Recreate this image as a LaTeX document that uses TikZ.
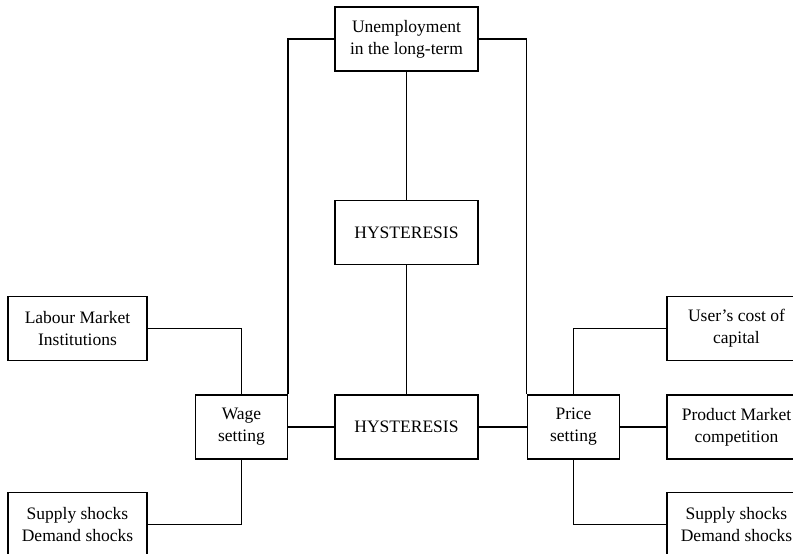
\documentclass[tikz,border=0pt]{standalone}
\usepackage{fontspec}
\setmainfont{Liberation Serif}
\usepackage{tikz}
\usetikzlibrary{positioning}
\tikzset{
  block/.style={
    rectangle, draw, line width=1.5pt, fill=white,
    minimum height=64pt, inner sep=2pt,
    align=center, font=\fontsize{17.5}{22}\selectfont
  },
  wide/.style={block, minimum width=143pt},
  narrow/.style={block, minimum width=92pt},
  side/.style={block, minimum width=139pt},
  link/.style={line width=1.5pt, black},
}

\begin{document}
\begin{tikzpicture}
  \clip (-406.5pt,-127pt) rectangle (386.5pt,427pt);

  % Central column
  \node[wide] (hyst) {HYSTERESIS};
  \node[wide, above=129pt of hyst] (hystup) {HYSTERESIS};
  \node[wide, above=128pt of hystup] (unemp) {Unemployment\\in the long-term};

  % Wage and price setting
  \node[narrow, left=46pt of hyst] (wage) {Wage\\setting};
  \node[narrow, right=48pt of hyst] (price) {Price\\setting};

  % Left side factors
  \node[side, above left=33pt and 47pt of wage] (lmi) {Labour Market\\Institutions};
  \node[side, below left=32pt and 47pt of wage] (shockl) {Supply shocks\\Demand shocks};

  % Right side factors
  \node[side, above right=33pt and 46pt of price] (ucc) {User's cost of\\capital};
  \node[side, right=46pt of price] (pmc) {Product Market\\competition};
  \node[side, below right=32pt and 46pt of price] (shockr) {Supply shocks\\Demand shocks};

  % Links -- central column
  \draw[link] (unemp) -- (hystup);
  \draw[link] (hystup) -- (hyst);
  \draw[link] (wage) -- (hyst);
  \draw[link] (hyst) -- (price);

  % Links -- long-term unemployment to both settings
  \draw[link] (unemp.west) -| (wage.north east);
  \draw[link] (unemp.east) -| (price.north west);

  % Links -- side factors
  \draw[link] (lmi.east) -| (wage.north);
  \draw[link] (shockl.east) -| (wage.south);
  \draw[link] (ucc.west) -| (price.north);
  \draw[link] (pmc) -- (price);
  \draw[link] (shockr.west) -| (price.south);
\end{tikzpicture}
\end{document}
